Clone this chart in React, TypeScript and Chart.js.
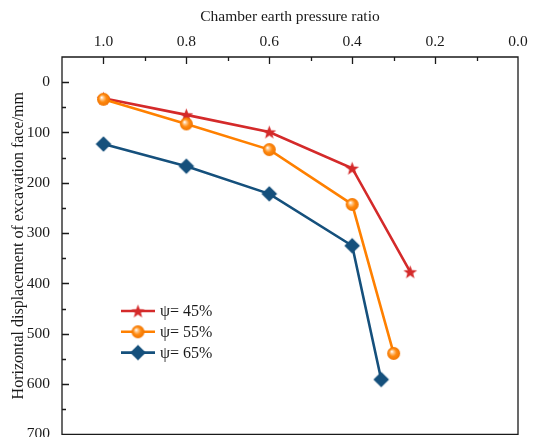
import React, { useEffect, useRef } from "react";
import { Chart, registerables } from "chart.js";

Chart.register(...registerables);

// Chamber earth pressure ratio (x) vs. horizontal displacement of excavation face in mm (y)
const seriesNames = ["ψ= 45%", "ψ= 55%", "ψ= 65%"];
const ratio45 = [1.0, 0.8, 0.6, 0.4, 0.26];
const disp45 = [32, 65, 99, 171, 377];
const ratio55 = [1.0, 0.8, 0.6, 0.4, 0.3];
const disp55 = [34, 83, 134, 243, 539];
const ratio65 = [1.0, 0.8, 0.6, 0.4, 0.33];
const disp65 = [123, 167, 222, 325, 591];

const xTicks = [0, 0.2, 0.4, 0.6, 0.8, 1.0];
const xMinorTicks = [0.1, 0.3, 0.5, 0.7, 0.9];
const yTicks = [0, 100, 200, 300, 400, 500, 600, 700];
const yMinorTicks = [50, 150, 250, 350, 450, 550, 650];

const RED = "#d42a2a";
const ORANGE = "#ff8000";
const BLUE = "#15507c";
const FONT = "'Liberation Serif', 'Times New Roman', serif";

function makeCanvas(size: number) {
  const c = document.createElement("canvas");
  c.width = size;
  c.height = size;
  return c;
}

function starMarker(r: number, color: string) {
  const size = Math.ceil(r * 2 + 2);
  const c = makeCanvas(size);
  const ctx = c.getContext("2d")!;
  const cx = size / 2;
  const cy = size / 2 + 0.6;
  const inner = r * 0.42;
  ctx.beginPath();
  for (let i = 0; i < 10; i++) {
    const rr = i % 2 === 0 ? r : inner;
    const a = -Math.PI / 2 + (i * Math.PI) / 5;
    const px = cx + rr * Math.cos(a);
    const py = cy + rr * Math.sin(a);
    if (i === 0) ctx.moveTo(px, py);
    else ctx.lineTo(px, py);
  }
  ctx.closePath();
  ctx.fillStyle = color;
  ctx.fill();
  return c;
}

function sphereMarker(r: number) {
  const size = Math.ceil(r * 2 + 2);
  const c = makeCanvas(size);
  const ctx = c.getContext("2d")!;
  const cx = size / 2;
  const cy = size / 2;
  const g = ctx.createRadialGradient(cx - r * 0.3, cy - r * 0.3, r * 0.05, cx, cy, r);
  g.addColorStop(0, "#ffffff");
  g.addColorStop(0.22, "#ffc88c");
  g.addColorStop(0.55, "#ff8a10");
  g.addColorStop(1, "#f07400");
  ctx.beginPath();
  ctx.arc(cx, cy, r, 0, Math.PI * 2);
  ctx.fillStyle = g;
  ctx.fill();
  return c;
}

function diamondMarker(r: number, color: string) {
  const size = Math.ceil(r * 2 + 2);
  const c = makeCanvas(size);
  const ctx = c.getContext("2d")!;
  const cx = size / 2;
  const cy = size / 2;
  ctx.beginPath();
  ctx.moveTo(cx, cy - r);
  ctx.lineTo(cx + r, cy);
  ctx.lineTo(cx, cy + r);
  ctx.lineTo(cx - r, cy);
  ctx.closePath();
  ctx.fillStyle = color;
  ctx.fill();
  return c;
}

function toPoints(xs: number[], ys: number[]) {
  return xs.map((x, i) => ({ x, y: ys[i] }));
}

// Frame around the plot area with inward major/minor ticks on the top and left sides
const framePlugin = {
  id: "frameTicks",
  afterDatasetsDraw(chart: any) {
    const { ctx, chartArea } = chart;
    const xs = chart.scales.x;
    const ys = chart.scales.y;
    const { left, right, top, bottom } = chartArea;
    ctx.save();
    ctx.strokeStyle = "#1a1a1a";
    ctx.lineWidth = 1.3;
    ctx.beginPath();
    ctx.rect(left, top, right - left, bottom - top);
    ctx.stroke();
    ctx.beginPath();
    const tick = (vals: number[], len: number) => {
      vals.forEach((v) => {
        const px = Math.round(xs.getPixelForValue(v)) + 0.5;
        if (px > left + 1 && px < right - 1) {
          ctx.moveTo(px, top);
          ctx.lineTo(px, top + len);
        }
      });
    };
    const ytick = (vals: number[], len: number) => {
      vals.forEach((v) => {
        const py = Math.round(ys.getPixelForValue(v)) + 0.5;
        if (py > top + 1 && py < bottom - 1) {
          ctx.moveTo(left, py);
          ctx.lineTo(left + len, py);
        }
      });
    };
    tick(xTicks, 7);
    tick(xMinorTicks, 4);
    ytick(yTicks, 7);
    ytick(yMinorTicks, 4);
    ctx.stroke();
    ctx.restore();
  },
};

// Legend drawn inside the plot area, lower left
const innerLegendPlugin = {
  id: "innerLegend",
  afterDraw(chart: any) {
    const { ctx, chartArea } = chart;
    const x0 = chartArea.left + 59;
    const y0 = chartArea.top + 254;
    const rowH = 20.8;
    ctx.save();
    chart.data.datasets.forEach((ds: any, i: number) => {
      const y = y0 + i * rowH;
      ctx.strokeStyle = ds.borderColor;
      ctx.lineWidth = ds.borderWidth;
      ctx.beginPath();
      ctx.moveTo(x0, y);
      ctx.lineTo(x0 + 34, y);
      ctx.stroke();
      const img = ds.pointStyle as HTMLCanvasElement;
      ctx.drawImage(img, x0 + 17 - img.width / 2, y - img.height / 2);
      ctx.fillStyle = "#1a1a1a";
      ctx.font = `16px ${FONT}`;
      ctx.textBaseline = "middle";
      ctx.textAlign = "left";
      ctx.fillText(seriesNames[i], x0 + 39, y + 1);
    });
    ctx.restore();
  },
};

export default function App() {
  const ref = useRef<HTMLCanvasElement | null>(null);

  useEffect(() => {
    if (!ref.current) return;
    const star = starMarker(7.2, RED);
    const sphere = sphereMarker(6.5);
    const diamond = diamondMarker(7.8, BLUE);

    const chart = new Chart(ref.current, {
      type: "line",
      data: {
        datasets: [
          {
            label: seriesNames[0],
            data: toPoints(ratio45, disp45),
            borderColor: RED,
            backgroundColor: RED,
            borderWidth: 2.6,
            pointStyle: star as any,
            order: 3,
          },
          {
            label: seriesNames[1],
            data: toPoints(ratio55, disp55),
            borderColor: ORANGE,
            backgroundColor: ORANGE,
            borderWidth: 2.6,
            pointStyle: sphere as any,
            order: 2,
          },
          {
            label: seriesNames[2],
            data: toPoints(ratio65, disp65),
            borderColor: BLUE,
            backgroundColor: BLUE,
            borderWidth: 2.6,
            pointStyle: diamond as any,
            order: 1,
          },
        ],
      },
      options: {
        responsive: false,
        animation: false,
        layout: { padding: { left: 0, right: 16, top: 0, bottom: 3 } },
        elements: { line: { tension: 0 } },
        plugins: { legend: { display: false }, tooltip: { enabled: false } },
        scales: {
          x: {
            type: "linear",
            position: "top",
            reverse: true,
            min: 0,
            max: 1.1,
            grid: { display: false, drawTicks: false },
            border: { display: false },
            afterBuildTicks: (scale: any) => {
              scale.ticks = xTicks.map((v) => ({ value: v }));
            },
            afterFit: (scale: any) => {
              scale.height = 57;
              scale.paddingLeft = 0;
              scale.paddingRight = 0;
            },
            ticks: {
              padding: 6,
              color: "#1a1a1a",
              font: { family: FONT, size: 15.5 },
              callback: (v: any) => Number(v).toFixed(1),
            },
            title: {
              display: true,
              text: "Chamber earth pressure ratio",
              color: "#1a1a1a",
              font: { family: FONT, size: 15.5 },
              padding: { top: 8, bottom: 0 },
            },
          },
          y: {
            type: "linear",
            reverse: true,
            min: -50,
            max: 700,
            grid: { display: false, drawTicks: false },
            border: { display: false },
            afterBuildTicks: (scale: any) => {
              scale.ticks = yTicks.map((v) => ({ value: v }));
            },
            afterFit: (scale: any) => {
              scale.width = 62;
              scale.paddingTop = 0;
              scale.paddingBottom = 0;
            },
            ticks: {
              padding: 12,
              color: "#1a1a1a",
              font: { family: FONT, size: 15.5 },
              callback: (v: any) => String(v),
            },
            title: {
              display: true,
              text: "Horizontal displacement of excavation face/mm",
              color: "#1a1a1a",
              font: { family: FONT, size: 16 },
              padding: { top: 9, bottom: 0 },
            },
          },
        },
      },
      plugins: [framePlugin, innerLegendPlugin],
    });
    return () => chart.destroy();
  }, []);

  // The plot runs slightly past the bottom edge of the view, so the canvas is a little taller
  return (
    <div
      style={{
        position: "fixed",
        left: 0,
        top: 0,
        width: 534,
        height: 437,
        overflow: "hidden",
        background: "#fff",
      }}
    >
      <canvas ref={ref} width={534} height={441} style={{ display: "block" }} />
    </div>
  );
}
